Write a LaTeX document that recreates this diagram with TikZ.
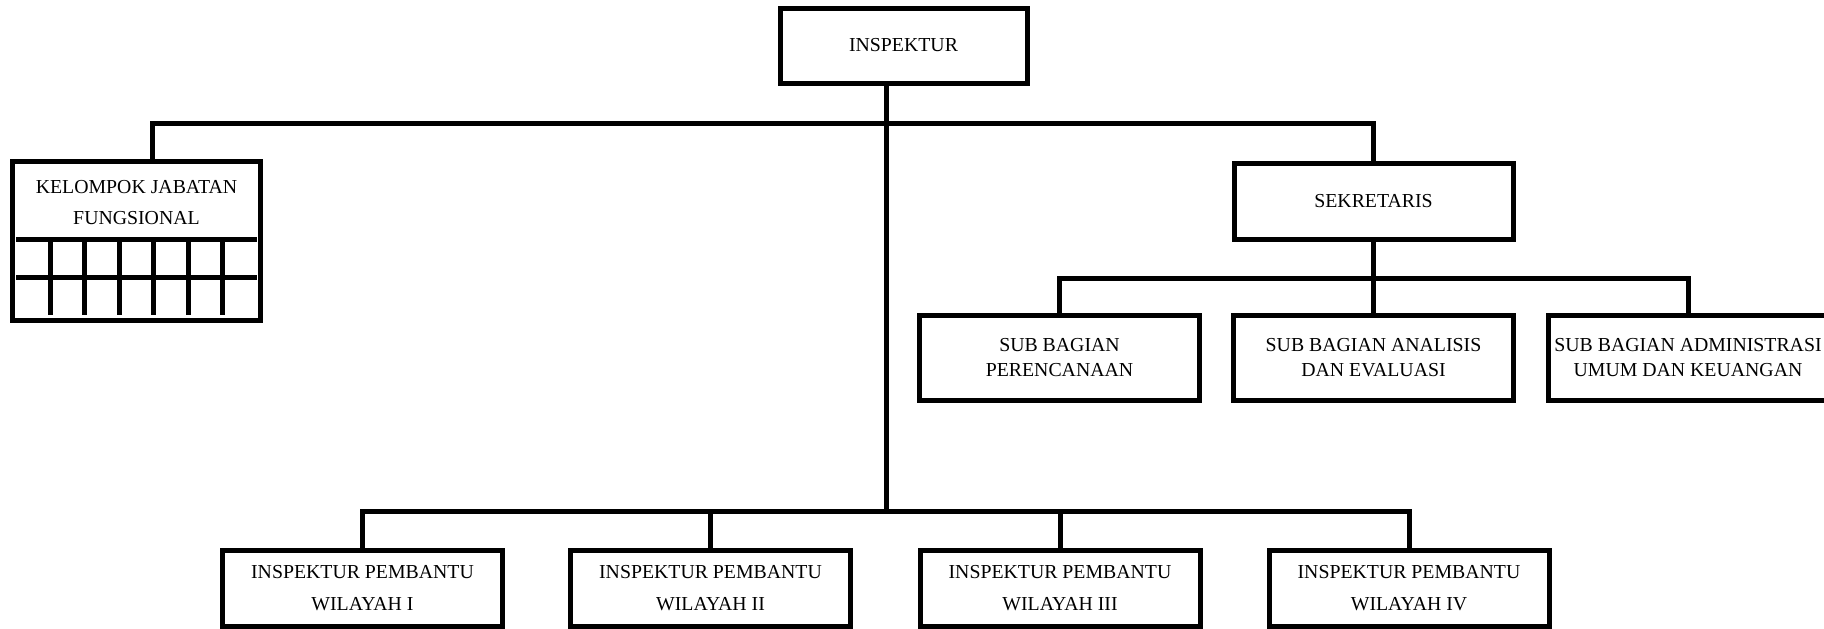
\documentclass[tikz,border=0pt]{standalone}
\usepackage{fontspec}
\setmainfont{Liberation Serif}
\tikzset{
	unitbox/.style={draw, line width=2.5pt, minimum width=140pt, minimum height=38pt, inner sep=0pt, align=center, font=\fontsize{9.9}{16}\selectfont},
	subbox/.style={unitbox, minimum height=42.5pt, font=\fontsize{9.9}{12.5}\selectfont},
	link/.style={line width=2.5pt},
}
\begin{document}
\begin{tikzpicture}[x=0.5pt, y=-0.5pt]
		\useasboundingbox (0,0) rectangle (1824,628);
		
		\node[unitbox, minimum width=123.5pt, minimum height=37.5pt] (inspektur) at (903.5,45.5) {INSPEKTUR};
		\node[unitbox, minimum width=139.5pt] (sekretaris) at (1373.5,201) {SEKRETARIS};
		
		\node[draw, line width=1.6pt, minimum width=124.5pt, minimum height=80pt, inner sep=0pt] (kelompok) at (136.5,241) {};
		\draw[line width=0.6pt] ([shift={(4,4)}]kelompok.north west) rectangle ([shift={(-4,-4)}]kelompok.south east);
		\node[align=center, font=\fontsize{9.9}{15.5}\selectfont] (jabatan) at (136.5,203) {KELOMPOK JABATAN\\FUNGSIONAL};
		\draw[link] (16,239.5) -- (257,239.5);
		\draw[link] (16,277) -- (257,277);
		\foreach \i in {1,...,6}
		{
			\draw[link] ({16+\i*34.43},239.5) -- ({16+\i*34.43},315);
		}
		
		\foreach \key/\x/\txt in {perencanaan/1059.5/{SUB BAGIAN\\PERENCANAAN}, analisis/1373.5/{SUB BAGIAN ANALISIS\\DAN EVALUASI}, administrasi/1688/{SUB BAGIAN ADMINISTRASI\\UMUM DAN KEUANGAN}}
		{
			\node[subbox] (\key) at (\x,357.5) {\txt};
		}
		\foreach \n/\x/\w in {1/362.5/I, 2/710.5/II, 3/1060/III, 4/1409/IV}
		{
			\node[unitbox] (wilayah\n) at (\x,588) {INSPEKTUR PEMBANTU\\WILAYAH \w};
		}
		
		\coordinate (trunk) at (886,123);
		\coordinate (kstem) at (152,123);
		\coordinate (subbar) at (0,278);
		\coordinate (base) at (886,511);
		
		\draw[link] (inspektur.south -| trunk) -- (base);
		\draw[link] (kelompok.north -| kstem) |- (sekretaris.north |- trunk) -- (sekretaris.north);
		\draw[link] (sekretaris.south) -- (analisis.north);
		\draw[link] (perencanaan.north) |- (administrasi.north |- subbar) -- (administrasi.north);
		\draw[link] (wilayah1.north) |- (wilayah4.north |- base) -- (wilayah4.north);
		\foreach \n in {2,3}
		{
			\draw[link] (wilayah\n.north) -- (wilayah\n.north |- base);
		}
	\end{tikzpicture}
\end{document}
